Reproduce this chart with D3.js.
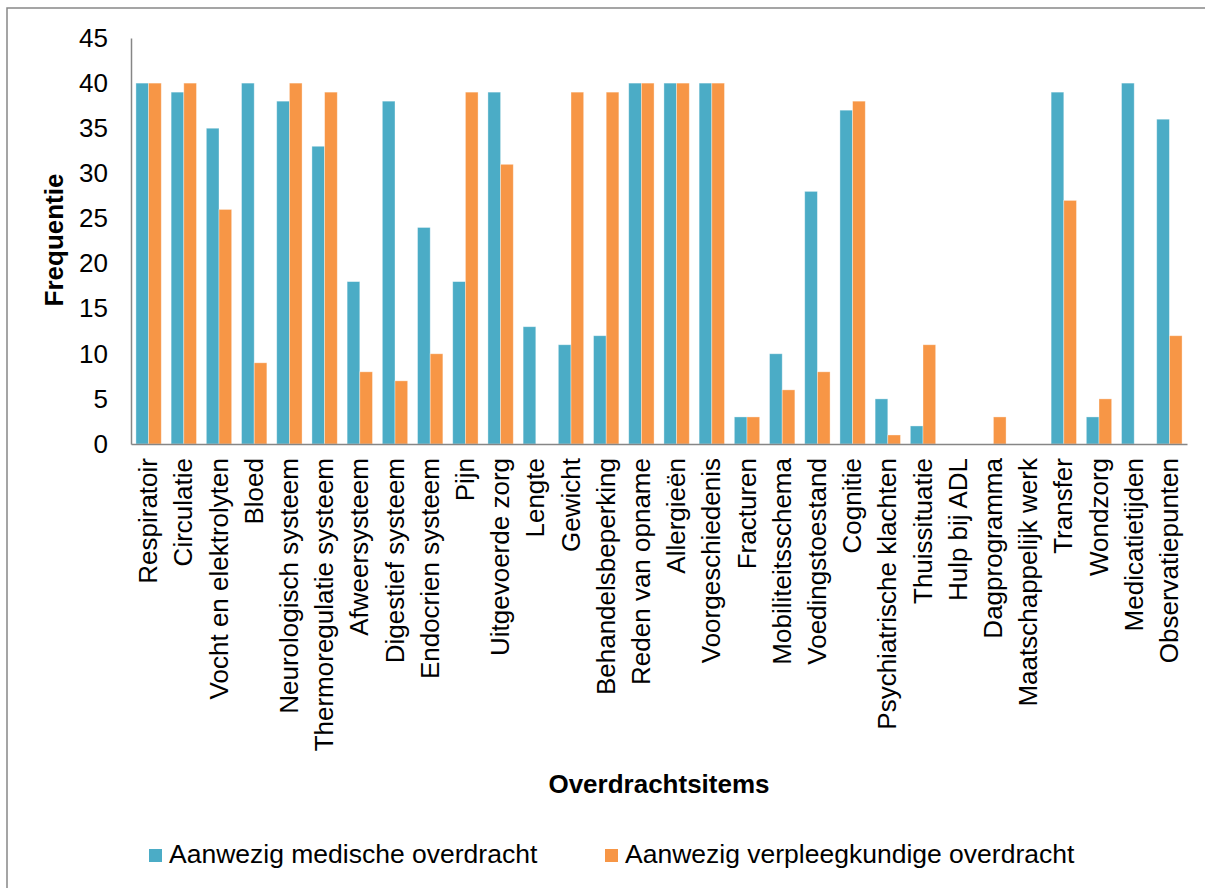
<!DOCTYPE html>
<html>
<head>
<meta charset="utf-8">
<script src="https://cdn.jsdelivr.net/npm/d3@7"></script>
<style>
  html, body { margin: 0; padding: 0; background: #fff; }
  svg { display: block; }
  text { font-family: "Liberation Sans", Arial, sans-serif; fill: #000; }
</style>
</head>
<body>
<svg id="chart" width="1205" height="888"></svg>
<script>
const categories = ["Respiratoir","Circulatie","Vocht en elektrolyten","Bloed","Neurologisch systeem","Thermoregulatie systeem","Afweersysteem","Digestief systeem","Endocrien systeem","Pijn","Uitgevoerde zorg","Lengte","Gewicht","Behandelsbeperking","Reden van opname","Allergieën","Voorgeschiedenis","Fracturen","Mobiliteitsschema","Voedingstoestand","Cognitie","Psychiatrische klachten","Thuissituatie","Hulp bij ADL","Dagprogramma","Maatschappelijk werk","Transfer","Wondzorg","Medicatietijden","Observatiepunten"];
const medisch = [40,39,35,40,38,33,18,38,24,18,39,13,11,12,40,40,40,3,10,28,37,5,2,0,0,0,39,3,40,36];
const verpleeg = [40,40,26,9,40,39,8,7,10,39,31,0,39,39,40,40,40,3,6,8,38,1,11,0,3,0,27,5,0,12];
const seriesNames = ["Aanwezig medische overdracht","Aanwezig verpleegkundige overdracht"];
const yTicks = [0,5,10,15,20,25,30,35,40,45];

const colors = ["#4BACC6","#F79646"];
const svg = d3.select("#chart");

// outer frame
svg.append("rect").attr("x",7).attr("y",8).attr("width",1220).attr("height",900)
  .attr("fill","none").attr("stroke","#888").attr("stroke-width",1.5);

const x0 = d3.scaleBand().domain(categories).range([131,1187]).paddingInner(0.28).paddingOuter(0.14);
const x1 = d3.scaleBand().domain([0,1]).range([0,x0.bandwidth()]);
const y = d3.scaleLinear().domain([0,45]).range([444,38]);

const data = categories.map((c,i)=>({c, v:[medisch[i], verpleeg[i]]}));

const g = svg.append("g");
g.selectAll("g.grp").data(data).enter().append("g")
  .attr("transform", d=>`translate(${x0(d.c)},0)`)
  .selectAll("rect").data(d=>d.v.map((v,k)=>({v,k}))).enter().append("rect")
  .attr("x", d=>x1(d.k)).attr("width", x1.bandwidth())
  .attr("y", d=>y(d.v)).attr("height", d=>y(0)-y(d.v))
  .attr("fill", d=>colors[d.k])
  .attr("stroke", "rgba(255,255,255,0.45)").attr("stroke-width", 0.8);

// y axis
const yAxis = svg.append("g").attr("transform","translate(131,0)")
  .call(d3.axisLeft(y).tickValues(yTicks).tickSize(0).tickPadding(23));
yAxis.select(".domain").attr("stroke","#868686").attr("stroke-width",1.5);
yAxis.selectAll("text").style("font-size","26px").style("font-family","Liberation Sans, Arial, sans-serif").attr("fill","#000");

// x axis
const xAxis = svg.append("g").attr("transform","translate(0,444)")
  .call(d3.axisBottom(x0).tickSize(0).tickSizeOuter(0));
xAxis.select(".domain").attr("stroke","#868686").attr("stroke-width",1.5);
xAxis.selectAll("text")
  .style("font-size","26px").style("font-family","Liberation Sans, Arial, sans-serif").attr("fill","#000")
  .attr("text-anchor","end")
  .attr("transform","rotate(-90)")
  .attr("x",-14).attr("y",0).attr("dy","0.33em");

// axis titles
svg.append("text").attr("transform","translate(63,240) rotate(-90)")
  .attr("text-anchor","middle").style("font-size","26px").style("font-weight","bold").text("Frequentie");
svg.append("text").attr("x",659).attr("y",793)
  .attr("text-anchor","middle").style("font-size","26px").style("font-weight","bold").text("Overdrachtsitems");

// legend
const legX = [149, 605];
seriesNames.forEach((n,k)=>{
  svg.append("rect").attr("x",legX[k]).attr("y",849).attr("width",13).attr("height",13).attr("fill",colors[k]);
  svg.append("text").attr("x",legX[k]+20).attr("y",863).style("font-size","26.5px").text(n);
});
</script>
</body>
</html>
